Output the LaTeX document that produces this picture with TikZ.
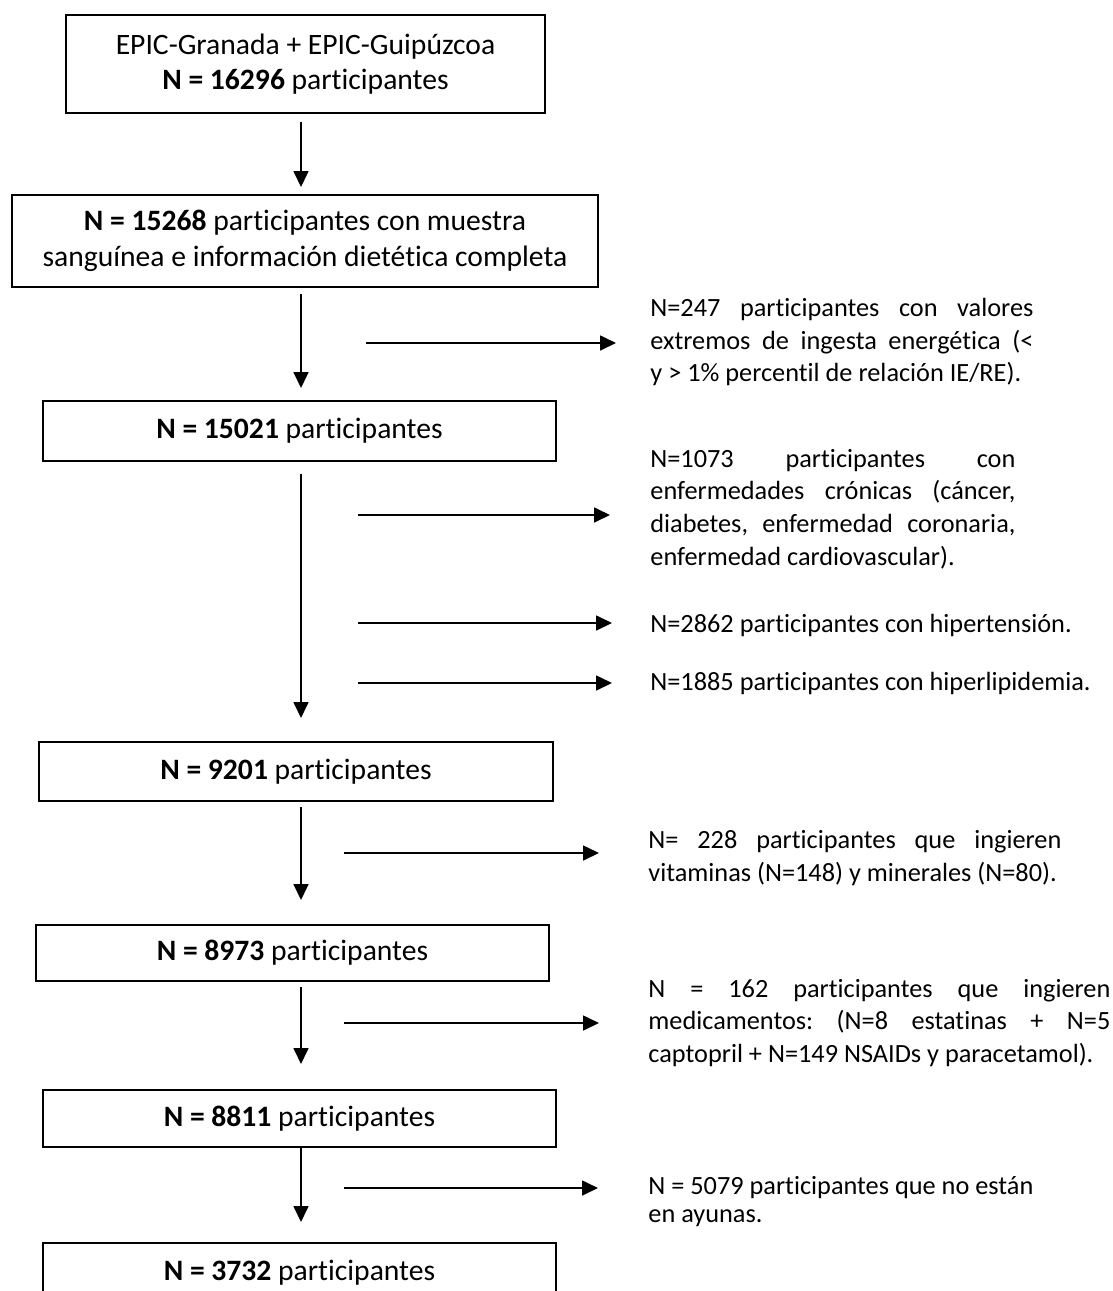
\documentclass[tikz,border=0pt]{standalone}
\usepackage{fontspec}
\setmainfont{Carlito}[Ligatures=NoCommon]
\usetikzlibrary{arrows.meta}

% one justified line of a side note
\newlength{\notew}
\newcommand{\jline}[1]{\makebox[\notew][s]{\frenchspacing\spaceskip=0.226em plus 1fil\relax #1}}

\tikzset{
  box/.style={draw, line width=1pt, inner sep=0pt, align=center,
    font=\fontsize{14.8pt}{17.75pt}\selectfont},
  note/.style={anchor=west, inner sep=0pt, align=left,
    font=\fontsize{13.15pt}{16.35pt}\selectfont},
  notew/.code={\setlength{\notew}{#1}},
  flow/.style={line width=0.85pt, -{Triangle[length=8pt,width=7.5pt]}}
}

\begin{document}
\begin{tikzpicture}[x=0.5pt, y=-0.5pt]
  \useasboundingbox (0,0) rectangle (1113,1291);
  \clip (0,0) rectangle (1113,1291);

  % Boxes down the left column
  \node[box, minimum width=239.5pt, minimum height=49pt] (b1) at (305.5,64)
    {EPIC-Granada + EPIC-Guipúzcoa\\ \textbf{N = 16296} participantes};
  \node[box, minimum width=293pt, minimum height=46pt] (b2) at (305,241)
    {\textbf{N = 15268} participantes con muestra\\ sanguínea e información dietética completa};
  \node[box, minimum width=256.5pt, minimum height=30pt] (b3) at (299.5,431)
    {\textbf{N = 15021} participantes};
  \node[box, minimum width=257pt, minimum height=29.5pt] (b4) at (296,771.5)
    {\textbf{N = 9201} participantes};
  \node[box, minimum width=256.5pt, minimum height=28pt] (b5) at (292.5,953)
    {\textbf{N = 8973} participantes};
  \node[box, minimum width=256.5pt, minimum height=28.5pt] (b6) at (299.5,1118.5)
    {\textbf{N = 8811} participantes};
  \node[box, minimum width=256.5pt, minimum height=30pt] (b7) at (299.5,1273)
    {\textbf{N = 3732} participantes};

  % Excluded participants, right column
  \node[note, notew=191.5pt] (x1) at (650,342)
    {\jline{N=247 participantes con valores}\\
     \jline{extremos de ingesta energética (<}\\
     y > 1\% percentil de relación IE/RE).};
  \node[note, notew=182.5pt] (x2) at (650,509)
    {\jline{N=1073 participantes con}\\
     \jline{enfermedades crónicas (cáncer,}\\
     \jline{diabetes, enfermedad coronaria,}\\
     enfermedad cardiovascular).};
  \node[note] (x3) at (650,625) {N=2862 participantes con hipertensión.};
  \node[note] (x4) at (650,683) {N=1885 participantes con hiperlipidemia.};
  \node[note, notew=206.5pt] (x5) at (648,858)
    {\jline{N= 228 participantes que ingieren}\\
     vitaminas (N=148) y minerales (N=80).};
  \node[note, notew=231pt] (x6) at (648,1023)
    {\jline{N = 162 participantes que ingieren}\\
     \jline{medicamentos: (N=8 estatinas + N=5}\\
     captopril + N=149 NSAIDs y paracetamol).};
  \node[note, font=\fontsize{13.15pt}{14pt}\selectfont] (x7) at (648,1202)
    {N = 5079 participantes que no están\\ en ayunas.};

  % Main flow
  \coordinate (sp) at (301,0);
  \draw[flow, shorten <=4pt, shorten >=3.5pt] (b1.south -| sp) -- (b2.north -| sp);
  \draw[flow, shorten <=3pt, shorten >=6pt] (b2.south -| sp) -- (b3.north -| sp);
  \draw[flow, shorten <=6pt, shorten >=11.5pt] (b3.south -| sp) -- (b4.north -| sp);
  \draw[flow, shorten <=2.5pt, shorten >=12pt] (b4.south -| sp) -- (b5.north -| sp);
  \draw[flow, shorten <=2.5pt, shorten >=12.5pt] (b5.south -| sp) -- (b6.north -| sp);
  \draw[flow, shorten >=10pt] (b6.south -| sp) -- (b7.north -| sp);

  % Side arrows to the exclusions
  \coordinate (e1) at (366,343);
  \coordinate (e2) at (358,515);
  \coordinate (e3) at (358,623);
  \coordinate (e4) at (358,683);
  \coordinate (e5) at (344,853);
  \coordinate (e6) at (344,1023);
  \coordinate (e7) at (344,1188);
  \draw[flow, shorten >=17pt] (e1) -- (e1 -| x1.west);
  \draw[flow, shorten >=20pt] (e2) -- (e2 -| x2.west);
  \draw[flow, shorten >=19pt] (e3) -- (e3 -| x3.west);
  \draw[flow, shorten >=19pt] (e4) -- (e4 -| x4.west);
  \draw[flow, shorten >=24.5pt] (e5) -- (e5 -| x5.west);
  \draw[flow, shorten >=24.5pt] (e6) -- (e6 -| x6.west);
  \draw[flow, shorten >=25pt] (e7) -- (e7 -| x7.west);
\end{tikzpicture}
\end{document}
